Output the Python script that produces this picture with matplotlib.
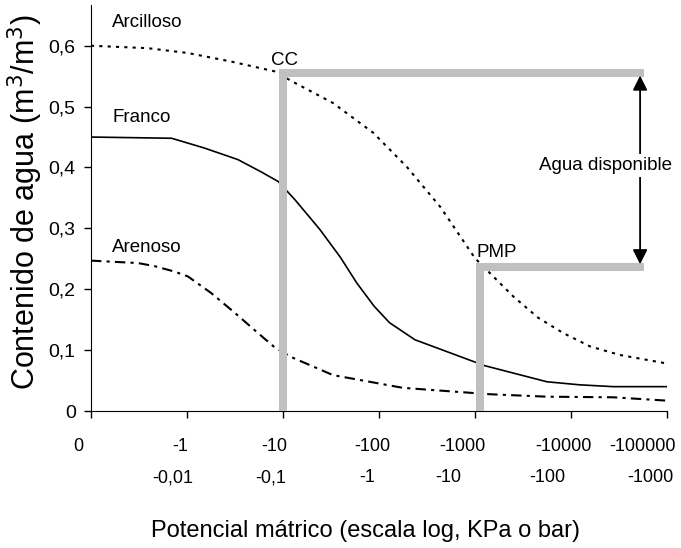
import numpy as np
import matplotlib.pyplot as plt

plt.rcParams['font.family'] = ['Liberation Sans', 'DejaVu Sans']

# posiciones en escala log (0 = 0 KPa, 1 = -1 KPa, ... 6 = -100000 KPa)
ticks_kpa = ["0", "-1", "-10", "-100", "-1000", "-10000", "-100000"]
ticks_bar = ["-0,01", "-0,1", "-1", "-10", "-100", "-1000"]
# centro de cada etiqueta (el original no las centra en la marca)
pos_kpa = [-0.135, 0.927, 1.906, 2.927, 3.865, 4.917, 5.75]
pos_bar = [0.854, 1.875, 2.875, 3.719, 4.75, 5.823]

x_arc = [0, 0.59, 1.01, 1.46, 1.77, 1.91, 2.1, 2.52, 2.94, 3.29, 3.64, 4.0, 4.14, 4.40, 4.66, 4.92, 5.2, 5.51, 6]
y_arc = [0.60, 0.596, 0.588, 0.574, 0.563, 0.558, 0.541, 0.506, 0.457, 0.401, 0.335, 0.251, 0.229, 0.188, 0.153, 0.128, 0.106, 0.092, 0.078]

x_fra = [0, 0.84, 1.18, 1.53, 1.77, 1.95, 2.125, 2.385, 2.6, 2.77, 2.95, 3.11, 3.375, 4.1, 4.75, 5.09, 5.44, 6]
y_fra = [0.45, 0.448, 0.432, 0.413, 0.393, 0.377, 0.347, 0.298, 0.252, 0.21, 0.172, 0.145, 0.117, 0.0745, 0.048, 0.043, 0.04, 0.04]

x_are = [0, 0.49, 0.66, 0.87, 1.01, 1.25, 1.50, 1.74, 1.91, 2.08, 2.52, 3.25, 4.16, 4.75, 5.44, 6]
y_are = [0.247, 0.243, 0.238, 0.229, 0.221, 0.194, 0.161, 0.128, 0.105, 0.089, 0.059, 0.038, 0.0275, 0.0235, 0.0225, 0.017]

cc_x, cc_y = 2.0, 0.556
pmp_x, pmp_y = 4.05, 0.237
end_x = 5.72

fig = plt.figure(figsize=(6.81, 5.48), dpi=100)
ax = fig.add_axes([0.1336, 0.25, 0.9794 - 0.1336, 0.741])

ax.plot(x_arc, y_arc, color='black', lw=1.5, ls=(0, (1.5, 2.5)))
ax.plot(x_fra, y_fra, color='black', lw=1.2)
ax.plot(x_are, y_are, color='black', lw=1.5, ls=(0, (5, 2.5, 1.5, 2.5)))

# capacidad de campo y punto de marchitez permanente
grey = '#c0c0c0'
ax.plot([cc_x, cc_x, end_x], [0, cc_y, cc_y], color=grey, lw=5.8,
        solid_joinstyle='miter', zorder=5)
ax.plot([pmp_x, pmp_x, end_x], [0, pmp_y, pmp_y], color=grey, lw=5.8,
        solid_joinstyle='miter', zorder=5)

ax.annotate('', xy=(end_x, cc_y - 0.005), xytext=(end_x, pmp_y + 0.004),
            arrowprops=dict(arrowstyle='<|-|>', color='black', lw=1.3,
                            mutation_scale=22, shrinkA=0, shrinkB=0), zorder=6)
ax.text(5.36, 0.403, 'Agua disponible', fontsize=13.5, ha='center', va='center',
        bbox=dict(facecolor='white', edgecolor='none', pad=2), zorder=7)

ax.text(0.22, 0.638, 'Arcilloso', fontsize=13.5, va='center')
ax.text(0.22, 0.482, 'Franco', fontsize=13.5, va='center')
ax.text(0.22, 0.268, 'Arenoso', fontsize=13.5, va='center')
ax.text(1.88, 0.576, 'CC', fontsize=13.5, va='center')
ax.text(4.02, 0.26, 'PMP', fontsize=13.5, va='center')

ax.set_xlim(0, 6)
ax.set_ylim(0, 0.667)
ax.set_yticks([0, 0.1, 0.2, 0.3, 0.4, 0.5, 0.6])
ax.set_yticklabels(['0', '0,1', '0,2', '0,3', '0,4', '0,5', '0,6'])
ax.set_xticks(range(len(ticks_kpa)))
ax.set_xticklabels([])
ax.tick_params(axis='both', length=5, width=1, direction='out')
ax.tick_params(axis='y', labelsize=14, pad=6)
for p, lab in zip(pos_kpa, ticks_kpa):
    ax.text(p, -0.059, lab, fontsize=13, ha='center', va='center', clip_on=False)
for p, lab in zip(pos_bar, ticks_bar):
    ax.text(p, -0.11, lab, fontsize=13, ha='center', va='center', clip_on=False)

for side in ['top', 'right']:
    ax.spines[side].set_visible(False)

ax.set_ylabel('Contenido de agua (m$^3$/m$^3$)', fontsize=22)
ax.yaxis.set_label_coords(-0.08, 0.515)
ax.set_xlabel('Potencial mátrico (escala log, KPa o bar)', fontsize=17)
ax.xaxis.set_label_coords(0.476, -0.268)

fig.savefig('out.png', dpi=100)
